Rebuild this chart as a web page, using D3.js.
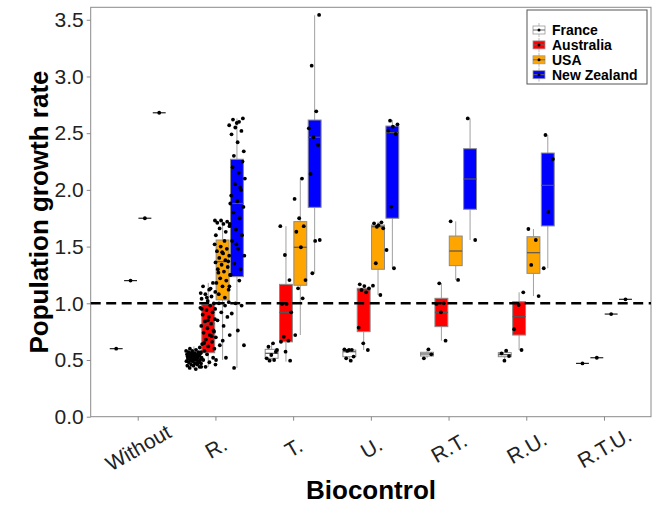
<!DOCTYPE html>
<html><head><meta charset="utf-8">
<script src="https://cdn.jsdelivr.net/npm/d3@7/dist/d3.min.js"></script>
<style>body{margin:0;background:#fff}svg{display:block}</style></head>
<body><svg id="c" width="654" height="507"></svg>
<script>
// ---------- data ----------
const categories = ["Without","R.","T.","U.","R.T.","R.U.","R.T.U."];
const countries = ["France","Australia","USA","New Zealand"];
const yTicks = [0,0.5,1,1.5,2,2.5,3,3.5];

// box stats per category: [lower whisker, q1, median, q3, upper whisker]
const franceBox = [
  [0.6,0.6,0.6,0.6,0.6],
  [0.42,0.48,0.52,0.57,0.62],
  [0.494,0.515,0.559,0.594,0.647],
  [0.494,0.529,0.573,0.588,0.6],
  [0.515,0.535,0.553,0.568,0.594],
  [0.494,0.529,0.547,0.565,0.582],
  [0.47,0.47,0.47,0.47,0.47]
];
const australiaBox = [
  [1.2,1.2,1.2,1.2,1.2],
  [0.44,0.564,0.82,0.99,1.18],
  [0.485,0.66,0.92,1.167,1.68],
  [0.588,0.75,1.117,1.132,1.167],
  [0.67,0.794,0.92,1.044,1.176],
  [0.588,0.72,0.882,1.014,1.097],
  [0.52,0.52,0.52,0.52,0.52]
];
const usaBox = [
  [1.75,1.75,1.75,1.75,1.75],
  [0.5,1.03,1.367,1.558,1.73],
  [0.72,1.159,1.494,1.72,2.10],
  [1.073,1.30,1.675,1.69,1.72],
  [1.206,1.332,1.461,1.593,1.723],
  [1.064,1.264,1.446,1.587,1.655],
  [0.905,0.905,0.905,0.905,0.905]
];
const nzBox = [
  [2.68,2.68,2.68,2.68,2.68],
  [0.43,1.235,1.88,2.27,2.63],
  [1.265,1.846,2.464,2.616,3.54],
  [1.31,1.75,2.505,2.563,2.617],
  [1.558,1.829,2.096,2.363,2.63],
  [1.309,1.682,2.04,2.325,2.484],
  [1.035,1.035,1.035,1.035,1.035]
];

// observed points per category
const francePts = [
  [0.6],
  [0.42,0.43,0.44,0.45,0.45,0.46,0.46,0.47,0.47,0.48,0.48,0.49,0.49,0.5,0.5,0.5,0.51,0.51,0.52,0.52,0.52,0.53,0.53,0.54,0.54,0.55,0.55,0.55,0.56,0.56,0.57,0.57,0.58,0.58,0.59,0.6,0.61,0.5,0.53,0.47,0.56,0.44,0.51,0.54,0.49],
  [0.647,0.617,0.573,0.544,0.515,0.5,0.494,0.588],
  [0.494,0.515,0.53,0.588,0.594,0.59,0.58],
  [0.594,0.515,0.55],
  [0.582,0.559,0.535,0.494],
  [0.47]
];
const australiaPts = [
  [1.2],
  [1.0,1.02,1.04,1.06,1.08,1.1,1.12,1.15,1.18,1.05,1.09,1.13,
   0.58,0.6,0.62,0.64,0.66,0.68,0.7,0.72,0.74,0.76,0.78,0.8,0.82,0.84,0.86,0.88,0.9,0.92,0.94,0.96,0.98,0.65,0.75,0.85,0.95,0.71,
   0.44,0.46,0.48,0.5,0.52,0.55,0.57],
  [0.494,0.573,0.661,0.67,0.705,0.92,0.994,0.994,1.205,1.426,1.68],
  [0.588,0.647,0.785,1.097,1.117,1.132,1.152,1.167],
  [0.67,0.92,0.994,1.0,1.176],
  [1.097,0.985,0.771,0.588],
  [0.52]
];
const usaPts = [
  [1.75],
  [1.6,1.63,1.66,1.68,1.7,1.71,1.72,1.73,1.73,
   1.05,1.08,1.12,1.15,1.18,1.2,1.22,1.25,1.28,1.3,1.32,1.34,1.36,1.38,1.4,1.42,1.44,1.46,1.48,1.5,1.52,1.55,1.27,1.37,1.45,
   0.5,0.52,0.63,0.72,0.8,0.85,0.88,0.92,0.95,0.98,1.0,1.01,0.67],
  [0.72,1.044,1.132,1.205,1.494,1.631,1.68,1.75,1.92,2.10],
  [1.155,1.073,1.353,1.661,1.69,1.705,1.714,1.675],
  [1.723,1.206],
  [1.655,1.558,1.338,1.064],
  [0.905]
];
const nzPts = [
  [2.68],
  [2.3,2.34,2.42,2.49,2.52,2.55,2.57,2.6,2.62,2.63,2.59,
   1.25,1.3,1.35,1.42,1.48,1.55,1.6,1.65,1.7,1.75,1.8,1.85,1.9,1.95,2.0,2.05,2.1,2.15,2.2,2.25,1.52,1.88,2.02,
   0.43,0.63,0.76,0.91,0.98,1.0,1.15,1.2],
  [1.265,1.558,1.55,2.14,2.396,2.464,2.543,2.693,3.095,3.543],
  [2.61,2.578,2.557,2.522,2.493,1.852,1.47,1.309],
  [2.63,1.558],
  [2.484,2.272,1.805,1.309],
  [1.035]
];

// ---------- style ----------
const fills = {"France":"#ffffff","Australia":"#ff0000","USA":"#ffa500","New Zealand":"#0000ff"};
const boxes = {"France":franceBox,"Australia":australiaBox,"USA":usaBox,"New Zealand":nzBox};
const pts = {"France":francePts,"Australia":australiaPts,"USA":usaPts,"New Zealand":nzPts};

const svg = d3.select("#c");
const L=90.7, R=651, T=7.3, B=416.7;
const x = d3.scalePoint().domain(categories).range([L,R]).padding(0.605);
const y = d3.scaleLinear().domain([0,3.61]).range([B,T]);
const dodge = d3.scaleBand().domain(countries).range([-29.4,29.4]).padding(0.1);
const bw = dodge.bandwidth();
const cx = (cat,c) => x(cat) + dodge(c) + bw/2;

// frame
svg.append("rect").attr("x",L).attr("y",T).attr("width",R-L).attr("height",B-T)
  .attr("fill","none").attr("stroke","#8a8a8a").attr("stroke-width",1);

// axes
const ya = svg.append("g").attr("transform",`translate(${L},0)`)
  .call(d3.axisLeft(y).tickValues(yTicks).tickFormat(d3.format(".1f")).tickSize(4).tickPadding(3));
ya.select(".domain").remove();
ya.selectAll(".tick line").attr("stroke","#8a8a8a");
ya.selectAll(".tick text").attr("font-family","Liberation Sans, Arial, sans-serif")
  .attr("font-size",21).attr("fill","#222");

const xa = svg.append("g").attr("transform",`translate(0,${B})`)
  .call(d3.axisBottom(x).tickSize(4));
xa.select(".domain").remove();
xa.selectAll(".tick line").attr("stroke","#8a8a8a");
xa.selectAll(".tick text").attr("font-family","Liberation Sans, Arial, sans-serif")
  .attr("font-size",21).attr("fill","#222")
  .attr("y",0).attr("dy","0.35em").attr("text-anchor","middle")
  .attr("transform","translate(0,31) rotate(-30)");

// titles
svg.append("text").attr("x",371).attr("y",499).attr("text-anchor","middle")
  .attr("font-family","Liberation Sans, Arial, sans-serif").attr("font-weight","bold")
  .attr("font-size",26).attr("fill","#000").text("Biocontrol");
svg.append("text").attr("transform","translate(48,212) rotate(-90)").attr("text-anchor","middle")
  .attr("font-family","Liberation Sans, Arial, sans-serif").attr("font-weight","bold")
  .attr("font-size",26).attr("fill","#000").text("Population growth rate");

// boxes
const gBox = svg.append("g");
countries.forEach(c => {
  categories.forEach((cat,i) => {
    const [lo,q1,md,q3,hi] = boxes[c][i];
    const xc = cx(cat,c);
    gBox.append("line").attr("x1",xc).attr("x2",xc).attr("y1",y(hi)).attr("y2",y(q3))
      .attr("stroke","#a0a0a0").attr("stroke-width",1);
    gBox.append("line").attr("x1",xc).attr("x2",xc).attr("y1",y(q1)).attr("y2",y(lo))
      .attr("stroke","#a0a0a0").attr("stroke-width",1);
    gBox.append("rect").attr("x",xc-bw/2).attr("width",bw)
      .attr("y",y(q3)).attr("height",Math.max(0,y(q1)-y(q3)))
      .attr("fill",fills[c]).attr("stroke",q3===q1?"#222":"#8a8a8a").attr("stroke-width",1);
    gBox.append("line").attr("x1",xc-bw/2).attr("x2",xc+bw/2).attr("y1",y(md)).attr("y2",y(md))
      .attr("stroke",q3===q1?"#222":"#555").attr("stroke-width",1.2);
  });
});

// reference line
svg.append("line").attr("x1",L).attr("x2",R).attr("y1",y(1)).attr("y2",y(1))
  .attr("stroke","#000").attr("stroke-width",2.6).attr("stroke-dasharray","10,5.5");

// points (deterministic jitter)
const gPts = svg.append("g");
countries.forEach((c,ci) => {
  categories.forEach((cat,i) => {
    const vals = pts[c][i];
    const amp = vals.length > 1 ? (i===1 ? 8 : 6) : 0;
    vals.forEach((v,k) => {
      const j = (((k+1)*0.618034 + ci*0.23) % 1 - 0.5) * 2 * amp;
      gPts.append("circle").attr("cx",cx(cat,c)+j).attr("cy",y(v)).attr("r",1.9).attr("fill","#000");
    });
  });
});

// legend
const lg = svg.append("g");
lg.append("rect").attr("x",527).attr("y",10).attr("width",120).attr("height",74)
  .attr("fill","#fff").attr("stroke","#555").attr("stroke-width",1);
countries.forEach((c,i) => {
  const yy = 30 + i*14.9;
  const kx = 539;
  lg.append("line").attr("x1",kx).attr("x2",kx).attr("y1",yy-7).attr("y2",yy+7).attr("stroke","#bbb");
  lg.append("rect").attr("x",kx-6).attr("y",yy-4).attr("width",12).attr("height",8)
    .attr("fill",fills[c]).attr("stroke","#999").attr("stroke-width",0.8);
  lg.append("line").attr("x1",kx-6).attr("x2",kx+6).attr("y1",yy).attr("y2",yy).attr("stroke","#666");
  lg.append("circle").attr("cx",kx).attr("cy",yy).attr("r",1.5).attr("fill","#000");
  lg.append("text").attr("x",552).attr("y",yy+5).attr("font-family","Liberation Sans, Arial, sans-serif")
    .attr("font-weight","bold").attr("font-size",14).attr("fill","#000").text(c);
});
</script></body></html>
